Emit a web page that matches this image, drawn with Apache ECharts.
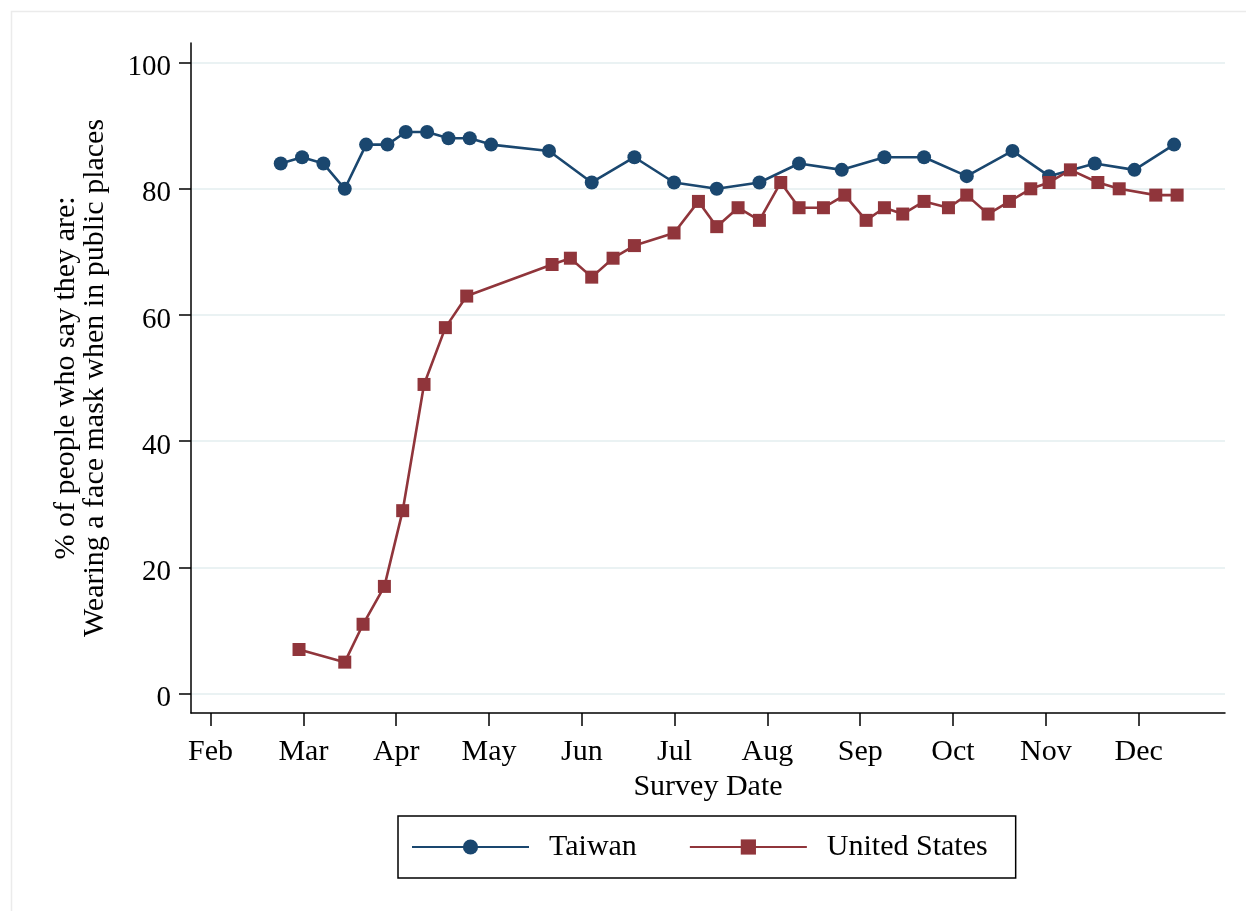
<!DOCTYPE html>
<html>
<head>
<meta charset="utf-8">
<title>Face mask wearing: Taiwan vs United States</title>
<script src="https://cdn.jsdelivr.net/npm/echarts@6/dist/echarts.min.js"></script>
<style>
  html, body { margin: 0; padding: 0; background: #ffffff; }
  #chart { width: 1246px; height: 911px; }
</style>
</head>
<body>
<div id="chart"></div>
<script>
// Survey dates (2020) and share of respondents wearing a face mask in public places
const taiwanDates = [
  '2020-02-24', '2020-03-02', '2020-03-09', '2020-03-16', '2020-03-23', '2020-03-30',
  '2020-04-05', '2020-04-12', '2020-04-19', '2020-04-26', '2020-05-03', '2020-05-22',
  '2020-06-05', '2020-06-19', '2020-07-02', '2020-07-16', '2020-07-30', '2020-08-12',
  '2020-08-26', '2020-09-09', '2020-09-22', '2020-10-06', '2020-10-21', '2020-11-02',
  '2020-11-17', '2020-11-30', '2020-12-13'
];
const taiwanPct = [
  84, 85, 84, 80, 87, 87,
  89, 89, 88, 88, 87, 86,
  81, 85, 81, 80, 81, 84,
  83, 85, 85, 82, 86, 82,
  84, 83, 87
];

const usDates = [
  '2020-03-01', '2020-03-16', '2020-03-22', '2020-03-29', '2020-04-04', '2020-04-11',
  '2020-04-18', '2020-04-25', '2020-05-23', '2020-05-29', '2020-06-05', '2020-06-12',
  '2020-06-19', '2020-07-02', '2020-07-10', '2020-07-16', '2020-07-23', '2020-07-30',
  '2020-08-06', '2020-08-12', '2020-08-20', '2020-08-27', '2020-09-03', '2020-09-09',
  '2020-09-15', '2020-09-22', '2020-09-30', '2020-10-06', '2020-10-13', '2020-10-20',
  '2020-10-27', '2020-11-02', '2020-11-09', '2020-11-18', '2020-11-25', '2020-12-07',
  '2020-12-14'
];
const usPct = [
  7, 5, 11, 17, 29, 49,
  58, 63, 68, 69, 66, 69,
  71, 73, 78, 74, 77, 75,
  81, 77, 77, 79, 75, 77,
  76, 78, 77, 79, 76, 78,
  80, 81, 83, 81, 80, 79,
  79
];

const monthLabels = ['Feb', 'Mar', 'Apr', 'May', 'Jun', 'Jul', 'Aug', 'Sep', 'Oct', 'Nov', 'Dec'];
const yTickValues = [0, 20, 40, 60, 80, 100];

// x is measured in days since 1 Feb 2020; month ticks are evenly spaced
const MONTH_DAYS = 365.25 / 12;
const ORIGIN = Date.UTC(2020, 1, 1);
function dayIndex(s) {
  const [y, m, d] = s.split('-').map(Number);
  return (Date.UTC(y, m - 1, d) - ORIGIN) / 86400000;
}
const monthTicks = monthLabels.map((_, i) => i * MONTH_DAYS);
function monthName(v) {
  const i = Math.round(v / MONTH_DAYS);
  return monthLabels[i] || '';
}

const taiwanData = taiwanDates.map((d, i) => [dayIndex(d), taiwanPct[i]]);
const usData = usDates.map((d, i) => [dayIndex(d), usPct[i]]);

const FONT = "'Liberation Serif', 'Times New Roman', 'DejaVu Serif', serif";
const NAVY = '#1a476f';
const MAROON = '#90353b';

const chart = echarts.init(document.getElementById('chart'), null, { renderer: 'canvas' });
chart.setOption({
  animation: false,
  backgroundColor: '#ffffff',
  textStyle: { fontFamily: FONT, color: '#000' },
  graphic: [{
    type: 'rect',
    left: 9, top: 9,
    shape: { width: 1300, height: 1000 },
    style: { fill: 'none', stroke: '#ebebeb', lineWidth: 1.5 },
    silent: true,
    z: -10
  }],
  grid: { left: 191, right: 21, top: 43, bottom: 198, containLabel: false },
  xAxis: {
    type: 'value',
    min: -6.43,
    max: 332.7,
    name: 'Survey Date',
    nameLocation: 'middle',
    nameGap: 55,
    nameTextStyle: { fontFamily: FONT, fontSize: 30, color: '#000' },
    axisLine: { show: true, onZero: false, lineStyle: { color: '#000', width: 1.5 } },
    axisTick: { show: true, customValues: monthTicks, length: 13, lineStyle: { color: '#000', width: 1.5 } },
    axisLabel: {
      customValues: monthTicks,
      formatter: monthName,
      margin: 24,
      fontFamily: FONT, fontSize: 30, color: '#000'
    },
    splitLine: { show: false }
  },
  yAxis: {
    type: 'value',
    min: -3.06,
    max: 103.1,
    name: '% of people who say they are:\nWearing a face mask when in public places',
    nameLocation: 'middle',
    nameRotate: 90,
    nameGap: 81,
    nameTextStyle: { fontFamily: FONT, fontSize: 30, color: '#000', lineHeight: 29, align: 'center' },
    axisLine: { show: true, onZero: false, lineStyle: { color: '#000', width: 1.5 } },
    axisTick: { show: true, customValues: yTickValues, length: 12, lineStyle: { color: '#000', width: 1.5 } },
    axisLabel: {
      customValues: yTickValues,
      margin: 20,
      verticalAlign: 'top',
      lineHeight: 10,
      fontFamily: FONT, fontSize: 29, color: '#000'
    },
    splitLine: { show: true, lineStyle: { color: '#eaf2f3', width: 2 } }
  },
  legend: {
    left: 398,
    top: 816,
    orient: 'horizontal',
    data: ['Taiwan', 'United States'],
    itemWidth: 117,
    itemHeight: 19,
    itemGap: 52,
    padding: [16, 28, 16, 13],
    borderColor: '#000',
    borderWidth: 1.5,
    borderRadius: 0,
    textStyle: { fontFamily: FONT, fontSize: 30, color: '#000', padding: [7, 0, 0, 15] }
  },
  series: [
    {
      name: 'Taiwan',
      type: 'line',
      data: taiwanData,
      symbol: 'circle',
      symbolSize: 14,
      showAllSymbol: true,
      lineStyle: { color: NAVY, width: 2.6 },
      itemStyle: { color: NAVY },
      z: 2
    },
    {
      name: 'United States',
      type: 'line',
      data: usData,
      symbol: 'rect',
      symbolSize: 13,
      showAllSymbol: true,
      lineStyle: { color: MAROON, width: 2.6 },
      itemStyle: { color: MAROON },
      z: 3
    }
  ]
});
</script>
</body>
</html>
